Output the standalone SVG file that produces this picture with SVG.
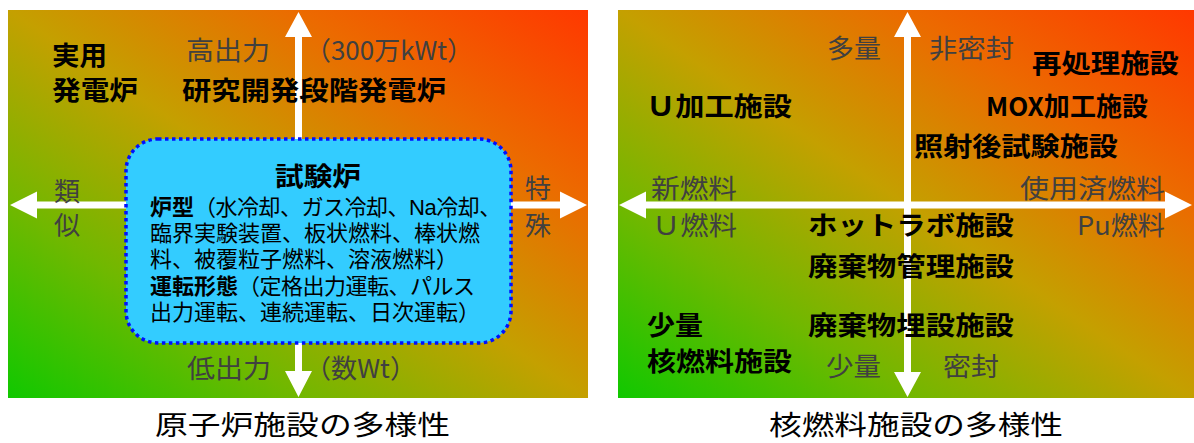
<svg xmlns="http://www.w3.org/2000/svg" width="1194" height="443" viewBox="0 0 1194 443">
<defs>
<linearGradient id="bg" x1="0" y1="1" x2="1" y2="0">
<stop offset="0" stop-color="#10c800"/>
<stop offset="0.25" stop-color="#70b800"/>
<stop offset="0.5" stop-color="#c4a000"/>
<stop offset="0.75" stop-color="#ec6a00"/>
<stop offset="1" stop-color="#ff3800"/>
</linearGradient>
<style>
text{font-family:"Noto Sans CJK JP","Noto Sans",sans-serif;}
.b{font-weight:bold;fill:#000;font-size:26px;}
.g{fill:#404040;font-size:26px;}
.t{fill:#000;font-size:27px;}
.bx{fill:#000;font-size:22px;font-family:"Liberation Sans","Noto Sans CJK JP",sans-serif;}
.k{font-weight:bold;}
.ax{fill:#fff;}
</style>
</defs>
<rect id="panel-left" x="8" y="10" width="580" height="388" fill="url(#bg)"/>
<rect id="panel-right" x="618" y="10" width="576" height="388" fill="url(#bg)"/>
<g id="connectors">
<path class="ax" d="M298.5,12 L312,37 L302,37 L302,371 L312,371 L298.5,397 L285,371 L295,371 L295,37 L285,37 Z"/>
<path class="ax" d="M10,205 L37,191.5 L37,201.5 L560,201.5 L560,191.5 L587,205 L560,218.5 L560,208.5 L37,208.5 L37,218.5 Z"/>
<path class="ax" d="M907.5,12 L921,37 L911,37 L911,372 L921,372 L907.5,397 L894,372 L904,372 L904,37 L894,37 Z"/>
<path class="ax" d="M619,205 L646,191.5 L646,201.5 L1165,201.5 L1165,191.5 L1192,205 L1165,218.5 L1165,208.5 L646,208.5 L646,218.5 Z"/>
</g>
<g id="test-reactor">
<rect x="126" y="139" width="385" height="204" rx="32" ry="32" fill="#33ccff" stroke="#0010ff" stroke-width="3.5" stroke-dasharray="3.5 3.5"/>
<text class="b" x="275" y="186" textLength="86" lengthAdjust="spacingAndGlyphs">試験炉</text>
<text class="bx"><tspan x="150" y="215" class="k">炉型</tspan><tspan letter-spacing="-0.5">（水冷却、ガス冷却、Na冷却、</tspan><tspan x="150" dy="26">臨界実験装置、板状燃料、棒状燃</tspan><tspan x="150" dy="26">料、被覆粒子燃料、溶液燃料）</tspan><tspan x="150" dy="26.5" class="k">運転形態</tspan><tspan letter-spacing="-0.5">（定格出力運転、パルス</tspan><tspan x="150" dy="26.5">出力運転、連続運転、日次運転）</tspan></text>
</g>
<g id="practical-reactor">
<text class="b" x="52" y="65" textLength="55" lengthAdjust="spacingAndGlyphs">実用</text>
<text class="b" x="52" y="100" textLength="86" lengthAdjust="spacingAndGlyphs">発電炉</text>
</g>
<g id="research-reactor">
<text class="b" x="182" y="100" textLength="264" lengthAdjust="spacingAndGlyphs">研究開発段階発電炉</text>
</g>
<g id="left-axis-labels">
<text class="g" x="186" y="60" textLength="84" lengthAdjust="spacingAndGlyphs">高出力</text>
<text class="g" x="305" y="60" textLength="168" lengthAdjust="spacingAndGlyphs">（300万kWt）</text>
<text class="g" x="187" y="378" textLength="84" lengthAdjust="spacingAndGlyphs">低出力</text>
<text class="g" x="305" y="378" textLength="111" lengthAdjust="spacingAndGlyphs">（数Wt）</text>
<text class="g" x="67" y="201" text-anchor="middle">類</text>
<text class="g" x="67" y="235" text-anchor="middle">似</text>
<text class="g" x="538" y="198" text-anchor="middle">特</text>
<text class="g" x="538" y="235" text-anchor="middle">殊</text>
</g>
<g id="title-left">
<text class="t" x="155" y="435" textLength="295" lengthAdjust="spacingAndGlyphs">原子炉施設の多様性</text>
</g>
<g id="right-axis-labels">
<text class="g" x="827" y="58" textLength="54" lengthAdjust="spacingAndGlyphs">多量</text>
<text class="g" x="929" y="58" textLength="85" lengthAdjust="spacingAndGlyphs">非密封</text>
<text class="g" x="651" y="198" textLength="86" lengthAdjust="spacingAndGlyphs">新燃料</text>
<text class="g" x="1020" y="198" textLength="145" lengthAdjust="spacingAndGlyphs">使用済燃料</text>
<text class="g" x="652" y="235" textLength="85" lengthAdjust="spacingAndGlyphs">Ｕ燃料</text>
<text class="g" x="1077" y="235" textLength="88" lengthAdjust="spacingAndGlyphs">Pu燃料</text>
<text class="g" x="826" y="376" textLength="55" lengthAdjust="spacingAndGlyphs">少量</text>
<text class="g" x="943" y="376" textLength="56" lengthAdjust="spacingAndGlyphs">密封</text>
</g>
<g id="reprocessing"><text class="b" x="1032" y="73" textLength="147" lengthAdjust="spacingAndGlyphs">再処理施設</text></g>
<g id="u-fabrication"><text class="b" x="646" y="116" textLength="146" lengthAdjust="spacingAndGlyphs">Ｕ加工施設</text></g>
<g id="mox-fabrication"><text class="b" x="986" y="116" textLength="162" lengthAdjust="spacingAndGlyphs">MOX加工施設</text></g>
<g id="pie-facility"><text class="b" x="914" y="156" textLength="204" lengthAdjust="spacingAndGlyphs">照射後試験施設</text></g>
<g id="hot-lab"><text class="b" x="808" y="235" textLength="206" lengthAdjust="spacingAndGlyphs">ホットラボ施設</text></g>
<g id="waste-management"><text class="b" x="808" y="276" textLength="206" lengthAdjust="spacingAndGlyphs">廃棄物管理施設</text></g>
<g id="waste-burial"><text class="b" x="808" y="335" textLength="206" lengthAdjust="spacingAndGlyphs">廃棄物埋設施設</text></g>
<g id="small-fuel-facility">
<text class="b" x="647" y="335" textLength="56" lengthAdjust="spacingAndGlyphs">少量</text>
<text class="b" x="647" y="371" textLength="145" lengthAdjust="spacingAndGlyphs">核燃料施設</text>
</g>
<g id="title-right">
<text class="t" x="769" y="435" textLength="294" lengthAdjust="spacingAndGlyphs">核燃料施設の多様性</text>
</g>
</svg>
